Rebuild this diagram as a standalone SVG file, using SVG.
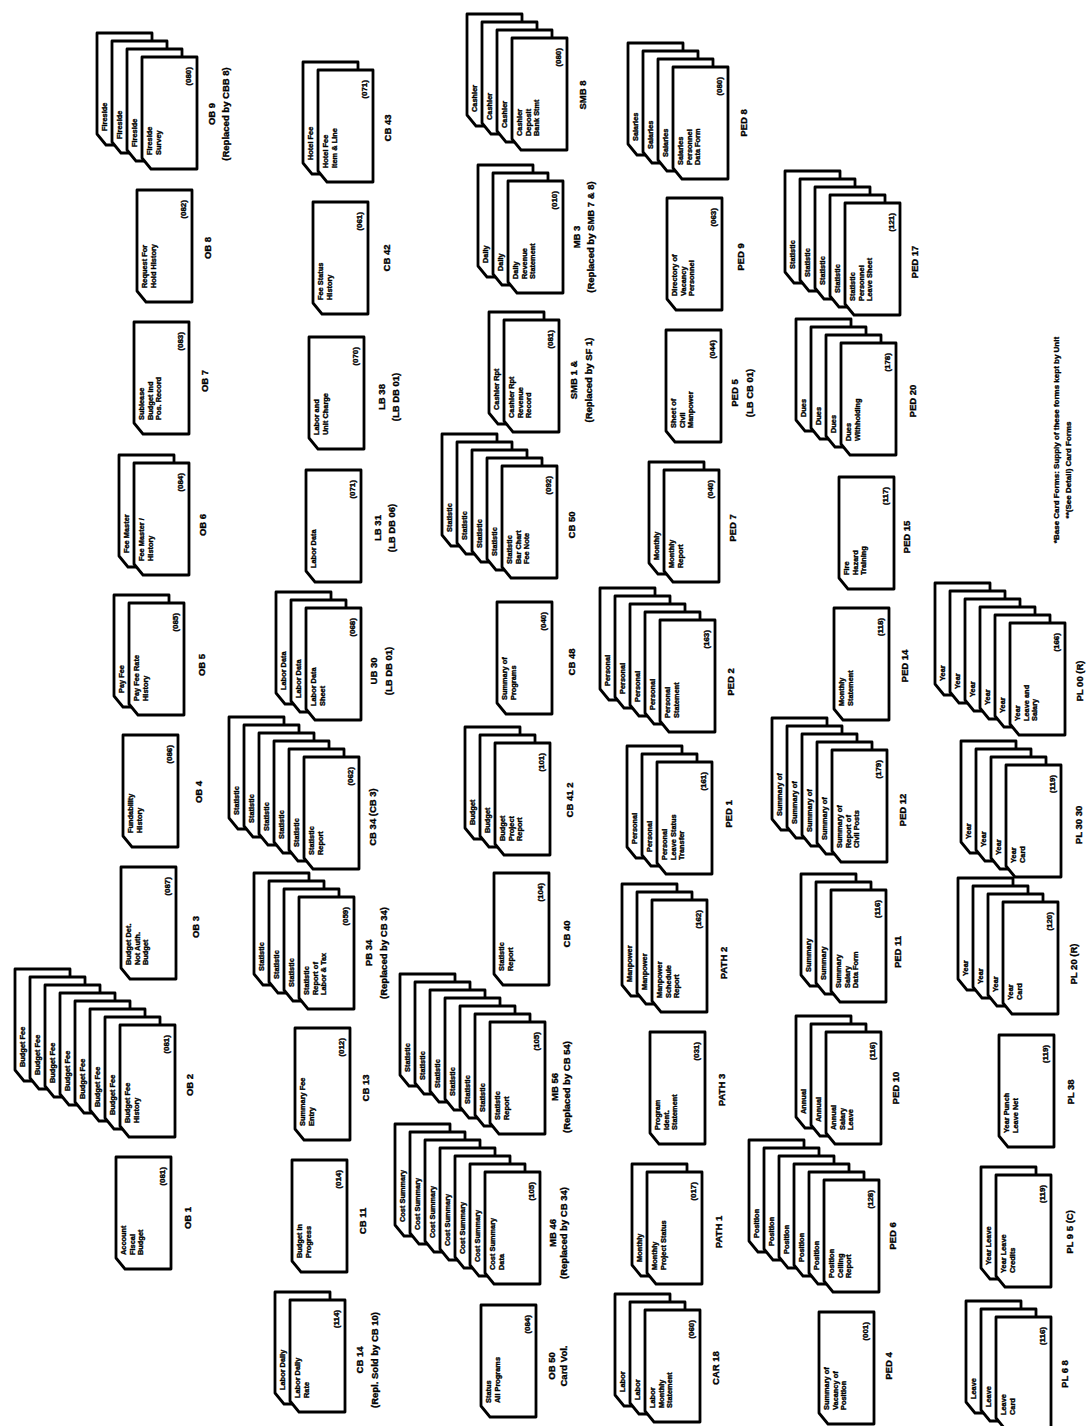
<svg xmlns="http://www.w3.org/2000/svg" xmlns:xlink="http://www.w3.org/1999/xlink" width="1089" height="1426" viewBox="0 0 1089 1426">
<style>
.c{fill:#fff;stroke:#000;stroke-width:2.8;stroke-linejoin:round}
.t{font-family:"Liberation Sans",Arial,sans-serif;font-weight:bold;fill:#000;stroke:#000;stroke-width:0.35}
.s{font-size:7.4px}
.n{font-size:8px;text-anchor:end}
.l{font-size:9.5px;text-anchor:middle}
.w{font-size:8px;text-anchor:middle}
</style>
<defs>
<path id="k" d="M0,0 H55 V112 H9 L0,101 Z"/>
</defs>
<rect width="1089" height="1426" fill="#fff"/>
<g id="connectors"/>

<!-- Column 1 -->
<g id="ob9" transform="translate(142,57)">
<g transform="translate(-45,-24)"><use href="#k" class="c"/><text class="t s" transform="translate(10,98) rotate(-90)">Fireside</text></g>
<g transform="translate(-30,-16)"><use href="#k" class="c"/><text class="t s" transform="translate(10,98) rotate(-90)">Fireside</text></g>
<g transform="translate(-15,-8)"><use href="#k" class="c"/><text class="t s" transform="translate(10,98) rotate(-90)">Fireside</text></g>
<use href="#k" class="c"/>
<text class="t s" transform="translate(10,98) rotate(-90)">Fireside</text>
<text class="t s" transform="translate(18.5,98) rotate(-90)">Survey</text>
<text class="t n" transform="translate(49,10) rotate(-90)">(080)</text>
<text class="t l" transform="translate(73,57) rotate(-90)">OB 9</text>
<text class="t l" transform="translate(87,57) rotate(-90)">(Replaced by CBB 8)</text>
</g>
<g id="ob8" transform="translate(137,190)">
<use href="#k" class="c"/>
<text class="t s" transform="translate(10,98) rotate(-90)">Request For</text>
<text class="t s" transform="translate(18.5,98) rotate(-90)">Hold History</text>
<text class="t n" transform="translate(49,10) rotate(-90)">(082)</text>
<text class="t l" transform="translate(74,58) rotate(-90)">OB 8</text>
</g>
<g id="ob7" transform="translate(134,322)">
<use href="#k" class="c"/>
<text class="t s" transform="translate(10,98) rotate(-90)">Sublease</text>
<text class="t s" transform="translate(18.5,98) rotate(-90)">Budget Ind</text>
<text class="t s" transform="translate(27,98) rotate(-90)">Pos. Record</text>
<text class="t n" transform="translate(49,10) rotate(-90)">(083)</text>
<text class="t l" transform="translate(74,59) rotate(-90)">OB 7</text>
</g>
<g id="ob6" transform="translate(134,463)">
<g transform="translate(-15,-8)"><use href="#k" class="c"/><text class="t s" transform="translate(10,98) rotate(-90)">Fee Master</text></g>
<use href="#k" class="c"/>
<text class="t s" transform="translate(10,98) rotate(-90)">Fee Master /</text>
<text class="t s" transform="translate(18.5,98) rotate(-90)">History</text>
<text class="t n" transform="translate(49,10) rotate(-90)">(084)</text>
<text class="t l" transform="translate(72,62) rotate(-90)">OB 6</text>
</g>
<g id="ob5" transform="translate(129,603)">
<g transform="translate(-15,-8)"><use href="#k" class="c"/><text class="t s" transform="translate(10,98) rotate(-90)">Pay Fee</text></g>
<use href="#k" class="c"/>
<text class="t s" transform="translate(10,98) rotate(-90)">Pay Fee Rate</text>
<text class="t s" transform="translate(18.5,98) rotate(-90)">History</text>
<text class="t n" transform="translate(49,10) rotate(-90)">(085)</text>
<text class="t l" transform="translate(76,62) rotate(-90)">OB 5</text>
</g>
<g id="ob4" transform="translate(123,735)">
<use href="#k" class="c"/>
<text class="t s" transform="translate(10,98) rotate(-90)">Fundability</text>
<text class="t s" transform="translate(18.5,98) rotate(-90)">History</text>
<text class="t n" transform="translate(49,10) rotate(-90)">(086)</text>
<text class="t l" transform="translate(79,57) rotate(-90)">OB 4</text>
</g>
<g id="ob3" transform="translate(121,867)">
<use href="#k" class="c"/>
<text class="t s" transform="translate(10,98) rotate(-90)">Budget Det.</text>
<text class="t s" transform="translate(18.5,98) rotate(-90)">Not Auth.</text>
<text class="t s" transform="translate(27,98) rotate(-90)">Budget</text>
<text class="t n" transform="translate(49,10) rotate(-90)">(087)</text>
<text class="t l" transform="translate(78,60) rotate(-90)">OB 3</text>
</g>
<g id="ob2" transform="translate(120,1025)">
<g transform="translate(-105,-56)"><use href="#k" class="c"/><text class="t s" transform="translate(10,98) rotate(-90)">Budget Fee</text></g>
<g transform="translate(-90,-48)"><use href="#k" class="c"/><text class="t s" transform="translate(10,98) rotate(-90)">Budget Fee</text></g>
<g transform="translate(-75,-40)"><use href="#k" class="c"/><text class="t s" transform="translate(10,98) rotate(-90)">Budget Fee</text></g>
<g transform="translate(-60,-32)"><use href="#k" class="c"/><text class="t s" transform="translate(10,98) rotate(-90)">Budget Fee</text></g>
<g transform="translate(-45,-24)"><use href="#k" class="c"/><text class="t s" transform="translate(10,98) rotate(-90)">Budget Fee</text></g>
<g transform="translate(-30,-16)"><use href="#k" class="c"/><text class="t s" transform="translate(10,98) rotate(-90)">Budget Fee</text></g>
<g transform="translate(-15,-8)"><use href="#k" class="c"/><text class="t s" transform="translate(10,98) rotate(-90)">Budget Fee</text></g>
<use href="#k" class="c"/>
<text class="t s" transform="translate(10,98) rotate(-90)">Budget Fee</text>
<text class="t s" transform="translate(18.5,98) rotate(-90)">History</text>
<text class="t n" transform="translate(49,10) rotate(-90)">(081)</text>
<text class="t l" transform="translate(73,60) rotate(-90)">OB 2</text>
</g>
<g id="ob1" transform="translate(116,1157)">
<use href="#k" class="c"/>
<text class="t s" transform="translate(10,98) rotate(-90)">Account</text>
<text class="t s" transform="translate(18.5,98) rotate(-90)">Fiscal</text>
<text class="t s" transform="translate(27,98) rotate(-90)">Budget</text>
<text class="t n" transform="translate(49,10) rotate(-90)">(081)</text>
<text class="t l" transform="translate(75,61) rotate(-90)">OB 1</text>
</g>

<!-- Column 2 -->
<g id="cb43" transform="translate(318,70)">
<g transform="translate(-15,-8)"><use href="#k" class="c"/><text class="t s" transform="translate(10,98) rotate(-90)">Hotel Fee</text></g>
<use href="#k" class="c"/>
<text class="t s" transform="translate(10,98) rotate(-90)">Hotel Fee</text>
<text class="t s" transform="translate(18.5,98) rotate(-90)">Item &amp; Line</text>
<text class="t n" transform="translate(49,10) rotate(-90)">(071)</text>
<text class="t l" transform="translate(73,58) rotate(-90)">CB 43</text>
</g>
<g id="cb42" transform="translate(313,202)">
<use href="#k" class="c"/>
<text class="t s" transform="translate(10,98) rotate(-90)">Fee Status</text>
<text class="t s" transform="translate(18.5,98) rotate(-90)">History</text>
<text class="t n" transform="translate(49,10) rotate(-90)">(061)</text>
<text class="t l" transform="translate(77,56) rotate(-90)">CB 42</text>
</g>
<g id="lb38" transform="translate(309,337)">
<use href="#k" class="c"/>
<text class="t s" transform="translate(10,98) rotate(-90)">Labor and</text>
<text class="t s" transform="translate(18.5,98) rotate(-90)">Unit Charge</text>
<text class="t n" transform="translate(49,10) rotate(-90)">(070)</text>
<text class="t l" transform="translate(76,60) rotate(-90)">LB 38</text>
<text class="t l" transform="translate(90,60) rotate(-90)">(LB DB 01)</text>
</g>
<g id="lb31" transform="translate(306,470)">
<use href="#k" class="c"/>
<text class="t s" transform="translate(10,98) rotate(-90)">Labor Data</text>
<text class="t n" transform="translate(49,10) rotate(-90)">(071)</text>
<text class="t l" transform="translate(75,58) rotate(-90)">LB 31</text>
<text class="t l" transform="translate(89,58) rotate(-90)">(LB DB 06)</text>
</g>
<g id="ub30" transform="translate(306,608)">
<g transform="translate(-30,-16)"><use href="#k" class="c"/><text class="t s" transform="translate(10,98) rotate(-90)">Labor Data</text></g>
<g transform="translate(-15,-8)"><use href="#k" class="c"/><text class="t s" transform="translate(10,98) rotate(-90)">Labor Data</text></g>
<use href="#k" class="c"/>
<text class="t s" transform="translate(10,98) rotate(-90)">Labor Data</text>
<text class="t s" transform="translate(18.5,98) rotate(-90)">Sheet</text>
<text class="t n" transform="translate(49,10) rotate(-90)">(068)</text>
<text class="t l" transform="translate(71,63) rotate(-90)">UB 30</text>
<text class="t l" transform="translate(86,63) rotate(-90)">(LB DB 01)</text>
</g>
<g id="cb34" transform="translate(304,757)">
<g transform="translate(-75,-40)"><use href="#k" class="c"/><text class="t s" transform="translate(10,98) rotate(-90)">Statistic</text></g>
<g transform="translate(-60,-32)"><use href="#k" class="c"/><text class="t s" transform="translate(10,98) rotate(-90)">Statistic</text></g>
<g transform="translate(-45,-24)"><use href="#k" class="c"/><text class="t s" transform="translate(10,98) rotate(-90)">Statistic</text></g>
<g transform="translate(-30,-16)"><use href="#k" class="c"/><text class="t s" transform="translate(10,98) rotate(-90)">Statistic</text></g>
<g transform="translate(-15,-8)"><use href="#k" class="c"/><text class="t s" transform="translate(10,98) rotate(-90)">Statistic</text></g>
<use href="#k" class="c"/>
<text class="t s" transform="translate(10,98) rotate(-90)">Statistic</text>
<text class="t s" transform="translate(18.5,98) rotate(-90)">Report</text>
<text class="t n" transform="translate(49,10) rotate(-90)">(062)</text>
<text class="t l" transform="translate(72,60) rotate(-90)">CB 34 (CB 3)</text>
</g>
<g id="pb34" transform="translate(299,897)">
<g transform="translate(-45,-24)"><use href="#k" class="c"/><text class="t s" transform="translate(10,98) rotate(-90)">Statistic</text></g>
<g transform="translate(-30,-16)"><use href="#k" class="c"/><text class="t s" transform="translate(10,98) rotate(-90)">Statistic</text></g>
<g transform="translate(-15,-8)"><use href="#k" class="c"/><text class="t s" transform="translate(10,98) rotate(-90)">Statistic</text></g>
<use href="#k" class="c"/>
<text class="t s" transform="translate(10,98) rotate(-90)">Statistic</text>
<text class="t s" transform="translate(18.5,98) rotate(-90)">Report of</text>
<text class="t s" transform="translate(27,98) rotate(-90)">Labor &amp; Tax</text>
<text class="t n" transform="translate(49,10) rotate(-90)">(059)</text>
<text class="t l" transform="translate(73,56) rotate(-90)">PB 34</text>
<text class="t l" transform="translate(88,56) rotate(-90)">(Replaced by CB 34)</text>
</g>
<g id="cb13" transform="translate(295,1028)">
<use href="#k" class="c"/>
<text class="t s" transform="translate(10,98) rotate(-90)">Summary Fee</text>
<text class="t s" transform="translate(18.5,98) rotate(-90)">Entry</text>
<text class="t n" transform="translate(49,10) rotate(-90)">(012)</text>
<text class="t l" transform="translate(74,60) rotate(-90)">CB 13</text>
</g>
<g id="cb11" transform="translate(292,1160)">
<use href="#k" class="c"/>
<text class="t s" transform="translate(10,98) rotate(-90)">Budget in</text>
<text class="t s" transform="translate(18.5,98) rotate(-90)">Progress</text>
<text class="t n" transform="translate(49,10) rotate(-90)">(014)</text>
<text class="t l" transform="translate(74,61) rotate(-90)">CB 11</text>
</g>
<g id="cb14" transform="translate(290,1300)">
<g transform="translate(-15,-8)"><use href="#k" class="c"/><text class="t s" transform="translate(10,98) rotate(-90)">Labor Daily</text></g>
<use href="#k" class="c"/>
<text class="t s" transform="translate(10,98) rotate(-90)">Labor Daily</text>
<text class="t s" transform="translate(18.5,98) rotate(-90)">Rate</text>
<text class="t n" transform="translate(49,10) rotate(-90)">(114)</text>
<text class="t l" transform="translate(73,60) rotate(-90)">CB 14</text>
<text class="t l" transform="translate(88,60) rotate(-90)">(Repl. Sold by CB 10)</text>
</g>

<!-- Column 3 -->
<g id="smb8" transform="translate(512,38)">
<g transform="translate(-45,-24)"><use href="#k" class="c"/><text class="t s" transform="translate(10,98) rotate(-90)">Cashier</text></g>
<g transform="translate(-30,-16)"><use href="#k" class="c"/><text class="t s" transform="translate(10,98) rotate(-90)">Cashier</text></g>
<g transform="translate(-15,-8)"><use href="#k" class="c"/><text class="t s" transform="translate(10,98) rotate(-90)">Cashier</text></g>
<use href="#k" class="c"/>
<text class="t s" transform="translate(10,98) rotate(-90)">Cashier</text>
<text class="t s" transform="translate(18.5,98) rotate(-90)">Deposit</text>
<text class="t s" transform="translate(27,98) rotate(-90)">Bank Stmt</text>
<text class="t n" transform="translate(49,10) rotate(-90)">(080)</text>
<text class="t l" transform="translate(74,57) rotate(-90)">SMB 8</text>
</g>
<g id="mb3" transform="translate(508,181)">
<g transform="translate(-30,-16)"><use href="#k" class="c"/><text class="t s" transform="translate(10,98) rotate(-90)">Daily</text></g>
<g transform="translate(-15,-8)"><use href="#k" class="c"/><text class="t s" transform="translate(10,98) rotate(-90)">Daily</text></g>
<use href="#k" class="c"/>
<text class="t s" transform="translate(10,98) rotate(-90)">Daily</text>
<text class="t s" transform="translate(18.5,98) rotate(-90)">Revenue</text>
<text class="t s" transform="translate(27,98) rotate(-90)">Statement</text>
<text class="t n" transform="translate(49,10) rotate(-90)">(010)</text>
<text class="t l" transform="translate(72,56) rotate(-90)">MB 3</text>
<text class="t l" transform="translate(86,56) rotate(-90)">(Replaced by SMB 7 &amp; 8)</text>
</g>
<g id="smb1" transform="translate(504,320)">
<g transform="translate(-15,-8)"><use href="#k" class="c"/><text class="t s" transform="translate(10,98) rotate(-90)">Cashier Rpt</text></g>
<use href="#k" class="c"/>
<text class="t s" transform="translate(10,98) rotate(-90)">Cashier Rpt</text>
<text class="t s" transform="translate(18.5,98) rotate(-90)">Revenue</text>
<text class="t s" transform="translate(27,98) rotate(-90)">Record</text>
<text class="t n" transform="translate(49,10) rotate(-90)">(081)</text>
<text class="t l" transform="translate(73,60) rotate(-90)">SMB 1 &amp;</text>
<text class="t l" transform="translate(88,60) rotate(-90)">(Replaced by SF 1)</text>
</g>
<g id="cb50" transform="translate(502,466)">
<g transform="translate(-60,-32)"><use href="#k" class="c"/><text class="t s" transform="translate(10,98) rotate(-90)">Statistic</text></g>
<g transform="translate(-45,-24)"><use href="#k" class="c"/><text class="t s" transform="translate(10,98) rotate(-90)">Statistic</text></g>
<g transform="translate(-30,-16)"><use href="#k" class="c"/><text class="t s" transform="translate(10,98) rotate(-90)">Statistic</text></g>
<g transform="translate(-15,-8)"><use href="#k" class="c"/><text class="t s" transform="translate(10,98) rotate(-90)">Statistic</text></g>
<use href="#k" class="c"/>
<text class="t s" transform="translate(10,98) rotate(-90)">Statistic</text>
<text class="t s" transform="translate(18.5,98) rotate(-90)">Bar Chart</text>
<text class="t s" transform="translate(27,98) rotate(-90)">Fee Note</text>
<text class="t n" transform="translate(49,10) rotate(-90)">(092)</text>
<text class="t l" transform="translate(73,59) rotate(-90)">CB 50</text>
</g>
<g id="cb48" transform="translate(497,602)">
<use href="#k" class="c"/>
<text class="t s" transform="translate(10,98) rotate(-90)">Summary of</text>
<text class="t s" transform="translate(18.5,98) rotate(-90)">Programs</text>
<text class="t n" transform="translate(49,10) rotate(-90)">(040)</text>
<text class="t l" transform="translate(78,60) rotate(-90)">CB 48</text>
</g>
<g id="cb412" transform="translate(495,743)">
<g transform="translate(-30,-16)"><use href="#k" class="c"/><text class="t s" transform="translate(10,98) rotate(-90)">Budget</text></g>
<g transform="translate(-15,-8)"><use href="#k" class="c"/><text class="t s" transform="translate(10,98) rotate(-90)">Budget</text></g>
<use href="#k" class="c"/>
<text class="t s" transform="translate(10,98) rotate(-90)">Budget</text>
<text class="t s" transform="translate(18.5,98) rotate(-90)">Project</text>
<text class="t s" transform="translate(27,98) rotate(-90)">Report</text>
<text class="t n" transform="translate(49,10) rotate(-90)">(101)</text>
<text class="t l" transform="translate(78,57) rotate(-90)">CB 41 2</text>
</g>
<g id="cb40" transform="translate(494,873)">
<use href="#k" class="c"/>
<text class="t s" transform="translate(10,98) rotate(-90)">Statistic</text>
<text class="t s" transform="translate(18.5,98) rotate(-90)">Report</text>
<text class="t n" transform="translate(49,10) rotate(-90)">(104)</text>
<text class="t l" transform="translate(76,61) rotate(-90)">CB 40</text>
</g>
<g id="mb56" transform="translate(490,1022)">
<g transform="translate(-90,-48)"><use href="#k" class="c"/><text class="t s" transform="translate(10,98) rotate(-90)">Statistic</text></g>
<g transform="translate(-75,-40)"><use href="#k" class="c"/><text class="t s" transform="translate(10,98) rotate(-90)">Statistic</text></g>
<g transform="translate(-60,-32)"><use href="#k" class="c"/><text class="t s" transform="translate(10,98) rotate(-90)">Statistic</text></g>
<g transform="translate(-45,-24)"><use href="#k" class="c"/><text class="t s" transform="translate(10,98) rotate(-90)">Statistic</text></g>
<g transform="translate(-30,-16)"><use href="#k" class="c"/><text class="t s" transform="translate(10,98) rotate(-90)">Statistic</text></g>
<g transform="translate(-15,-8)"><use href="#k" class="c"/><text class="t s" transform="translate(10,98) rotate(-90)">Statistic</text></g>
<use href="#k" class="c"/>
<text class="t s" transform="translate(10,98) rotate(-90)">Statistic</text>
<text class="t s" transform="translate(18.5,98) rotate(-90)">Report</text>
<text class="t n" transform="translate(49,10) rotate(-90)">(105)</text>
<text class="t l" transform="translate(68,65) rotate(-90)">MB 56</text>
<text class="t l" transform="translate(80,65) rotate(-90)">(Replaced by CB 54)</text>
</g>
<g id="mb46" transform="translate(485,1172)">
<g transform="translate(-90,-48)"><use href="#k" class="c"/><text class="t s" transform="translate(10,98) rotate(-90)">Cost Summary</text></g>
<g transform="translate(-75,-40)"><use href="#k" class="c"/><text class="t s" transform="translate(10,98) rotate(-90)">Cost Summary</text></g>
<g transform="translate(-60,-32)"><use href="#k" class="c"/><text class="t s" transform="translate(10,98) rotate(-90)">Cost Summary</text></g>
<g transform="translate(-45,-24)"><use href="#k" class="c"/><text class="t s" transform="translate(10,98) rotate(-90)">Cost Summary</text></g>
<g transform="translate(-30,-16)"><use href="#k" class="c"/><text class="t s" transform="translate(10,98) rotate(-90)">Cost Summary</text></g>
<g transform="translate(-15,-8)"><use href="#k" class="c"/><text class="t s" transform="translate(10,98) rotate(-90)">Cost Summary</text></g>
<use href="#k" class="c"/>
<text class="t s" transform="translate(10,98) rotate(-90)">Cost Summary</text>
<text class="t s" transform="translate(18.5,98) rotate(-90)">Data</text>
<text class="t n" transform="translate(49,10) rotate(-90)">(105)</text>
<text class="t l" transform="translate(71,61) rotate(-90)">MB 46</text>
<text class="t l" transform="translate(82,61) rotate(-90)">(Replaced by CB 34)</text>
</g>
<g id="ob50" transform="translate(481,1305)">
<use href="#k" class="c"/>
<text class="t s" transform="translate(10,98) rotate(-90)">Status</text>
<text class="t s" transform="translate(18.5,98) rotate(-90)">All Programs</text>
<text class="t n" transform="translate(49,10) rotate(-90)">(084)</text>
<text class="t l" transform="translate(74,61) rotate(-90)">OB 50</text>
<text class="t l" transform="translate(86,61) rotate(-90)">Card Vol.</text>
</g>

<!-- Column 4 -->
<g id="ped8" transform="translate(673,67)">
<g transform="translate(-45,-24)"><use href="#k" class="c"/><text class="t s" transform="translate(10,98) rotate(-90)">Salaries</text></g>
<g transform="translate(-30,-16)"><use href="#k" class="c"/><text class="t s" transform="translate(10,98) rotate(-90)">Salaries</text></g>
<g transform="translate(-15,-8)"><use href="#k" class="c"/><text class="t s" transform="translate(10,98) rotate(-90)">Salaries</text></g>
<use href="#k" class="c"/>
<text class="t s" transform="translate(10,98) rotate(-90)">Salaries</text>
<text class="t s" transform="translate(18.5,98) rotate(-90)">Personnel</text>
<text class="t s" transform="translate(27,98) rotate(-90)">Data Form</text>
<text class="t n" transform="translate(49,10) rotate(-90)">(080)</text>
<text class="t l" transform="translate(74,56) rotate(-90)">PED 8</text>
</g>
<g id="ped9" transform="translate(667,198)">
<use href="#k" class="c"/>
<text class="t s" transform="translate(10,98) rotate(-90)">Directory of</text>
<text class="t s" transform="translate(18.5,98) rotate(-90)">Vacancy</text>
<text class="t s" transform="translate(27,98) rotate(-90)">Personnel</text>
<text class="t n" transform="translate(49,10) rotate(-90)">(063)</text>
<text class="t l" transform="translate(77,59) rotate(-90)">PED 9</text>
</g>
<g id="ped5" transform="translate(666,330)">
<use href="#k" class="c"/>
<text class="t s" transform="translate(10,98) rotate(-90)">Sheet of</text>
<text class="t s" transform="translate(18.5,98) rotate(-90)">Civil</text>
<text class="t s" transform="translate(27,98) rotate(-90)">Manpower</text>
<text class="t n" transform="translate(49,10) rotate(-90)">(044)</text>
<text class="t l" transform="translate(72,63) rotate(-90)">PED 5</text>
<text class="t l" transform="translate(87,63) rotate(-90)">(LB CB 01)</text>
</g>
<g id="ped7" transform="translate(664,470)">
<g transform="translate(-15,-8)"><use href="#k" class="c"/><text class="t s" transform="translate(10,98) rotate(-90)">Monthly</text></g>
<use href="#k" class="c"/>
<text class="t s" transform="translate(10,98) rotate(-90)">Monthly</text>
<text class="t s" transform="translate(18.5,98) rotate(-90)">Report</text>
<text class="t n" transform="translate(49,10) rotate(-90)">(040)</text>
<text class="t l" transform="translate(72,58) rotate(-90)">PED 7</text>
</g>
<g id="ped2" transform="translate(660,620)">
<g transform="translate(-60,-32)"><use href="#k" class="c"/><text class="t s" transform="translate(10,98) rotate(-90)">Personal</text></g>
<g transform="translate(-45,-24)"><use href="#k" class="c"/><text class="t s" transform="translate(10,98) rotate(-90)">Personal</text></g>
<g transform="translate(-30,-16)"><use href="#k" class="c"/><text class="t s" transform="translate(10,98) rotate(-90)">Personal</text></g>
<g transform="translate(-15,-8)"><use href="#k" class="c"/><text class="t s" transform="translate(10,98) rotate(-90)">Personal</text></g>
<use href="#k" class="c"/>
<text class="t s" transform="translate(10,98) rotate(-90)">Personal</text>
<text class="t s" transform="translate(18.5,98) rotate(-90)">Statement</text>
<text class="t n" transform="translate(49,10) rotate(-90)">(163)</text>
<text class="t l" transform="translate(74,62) rotate(-90)">PED 2</text>
</g>
<g id="ped1" transform="translate(657,762)">
<g transform="translate(-30,-16)"><use href="#k" class="c"/><text class="t s" transform="translate(10,98) rotate(-90)">Personal</text></g>
<g transform="translate(-15,-8)"><use href="#k" class="c"/><text class="t s" transform="translate(10,98) rotate(-90)">Personal</text></g>
<use href="#k" class="c"/>
<text class="t s" transform="translate(10,98) rotate(-90)">Personal</text>
<text class="t s" transform="translate(18.5,98) rotate(-90)">Leave Status</text>
<text class="t s" transform="translate(27,98) rotate(-90)">Transfer</text>
<text class="t n" transform="translate(49,10) rotate(-90)">(161)</text>
<text class="t l" transform="translate(75,52) rotate(-90)">PED 1</text>
</g>
<g id="path2" transform="translate(652,900)">
<g transform="translate(-30,-16)"><use href="#k" class="c"/><text class="t s" transform="translate(10,98) rotate(-90)">Manpower</text></g>
<g transform="translate(-15,-8)"><use href="#k" class="c"/><text class="t s" transform="translate(10,98) rotate(-90)">Manpower</text></g>
<use href="#k" class="c"/>
<text class="t s" transform="translate(10,98) rotate(-90)">Manpower</text>
<text class="t s" transform="translate(18.5,98) rotate(-90)">Schedule</text>
<text class="t s" transform="translate(27,98) rotate(-90)">Report</text>
<text class="t n" transform="translate(49,10) rotate(-90)">(162)</text>
<text class="t l" transform="translate(75,63) rotate(-90)">PATH 2</text>
</g>
<g id="path3" transform="translate(650,1032)">
<use href="#k" class="c"/>
<text class="t s" transform="translate(10,98) rotate(-90)">Program</text>
<text class="t s" transform="translate(18.5,98) rotate(-90)">Ident.</text>
<text class="t s" transform="translate(27,98) rotate(-90)">Statement</text>
<text class="t n" transform="translate(49,10) rotate(-90)">(031)</text>
<text class="t l" transform="translate(75,58) rotate(-90)">PATH 3</text>
</g>
<g id="path1" transform="translate(647,1172)">
<g transform="translate(-15,-8)"><use href="#k" class="c"/><text class="t s" transform="translate(10,98) rotate(-90)">Monthly</text></g>
<use href="#k" class="c"/>
<text class="t s" transform="translate(10,98) rotate(-90)">Monthly</text>
<text class="t s" transform="translate(18.5,98) rotate(-90)">Project Status</text>
<text class="t n" transform="translate(49,10) rotate(-90)">(017)</text>
<text class="t l" transform="translate(75,60) rotate(-90)">PATH 1</text>
</g>
<g id="car18" transform="translate(645,1310)">
<g transform="translate(-30,-16)"><use href="#k" class="c"/><text class="t s" transform="translate(10,98) rotate(-90)">Labor</text></g>
<g transform="translate(-15,-8)"><use href="#k" class="c"/><text class="t s" transform="translate(10,98) rotate(-90)">Labor</text></g>
<use href="#k" class="c"/>
<text class="t s" transform="translate(10,98) rotate(-90)">Labor</text>
<text class="t s" transform="translate(18.5,98) rotate(-90)">Monthly</text>
<text class="t s" transform="translate(27,98) rotate(-90)">Statement</text>
<text class="t n" transform="translate(49,10) rotate(-90)">(060)</text>
<text class="t l" transform="translate(74,58) rotate(-90)">CAR 18</text>
</g>

<!-- Column 5 -->
<g id="ped17" transform="translate(845,203)">
<g transform="translate(-60,-32)"><use href="#k" class="c"/><text class="t s" transform="translate(10,98) rotate(-90)">Statistic</text></g>
<g transform="translate(-45,-24)"><use href="#k" class="c"/><text class="t s" transform="translate(10,98) rotate(-90)">Statistic</text></g>
<g transform="translate(-30,-16)"><use href="#k" class="c"/><text class="t s" transform="translate(10,98) rotate(-90)">Statistic</text></g>
<g transform="translate(-15,-8)"><use href="#k" class="c"/><text class="t s" transform="translate(10,98) rotate(-90)">Statistic</text></g>
<use href="#k" class="c"/>
<text class="t s" transform="translate(10,98) rotate(-90)">Statistic</text>
<text class="t s" transform="translate(18.5,98) rotate(-90)">Personnel</text>
<text class="t s" transform="translate(27,98) rotate(-90)">Leave Sheet</text>
<text class="t n" transform="translate(49,10) rotate(-90)">(121)</text>
<text class="t l" transform="translate(73,59) rotate(-90)">PED 17</text>
</g>
<g id="ped20" transform="translate(841,343)">
<g transform="translate(-45,-24)"><use href="#k" class="c"/><text class="t s" transform="translate(10,98) rotate(-90)">Dues</text></g>
<g transform="translate(-30,-16)"><use href="#k" class="c"/><text class="t s" transform="translate(10,98) rotate(-90)">Dues</text></g>
<g transform="translate(-15,-8)"><use href="#k" class="c"/><text class="t s" transform="translate(10,98) rotate(-90)">Dues</text></g>
<use href="#k" class="c"/>
<text class="t s" transform="translate(10,98) rotate(-90)">Dues</text>
<text class="t s" transform="translate(18.5,98) rotate(-90)">Withholding</text>
<text class="t n" transform="translate(49,10) rotate(-90)">(178)</text>
<text class="t l" transform="translate(75,58) rotate(-90)">PED 20</text>
</g>
<g id="ped15" transform="translate(839,477)">
<use href="#k" class="c"/>
<text class="t s" transform="translate(10,98) rotate(-90)">Fire</text>
<text class="t s" transform="translate(18.5,98) rotate(-90)">Hazard</text>
<text class="t s" transform="translate(27,98) rotate(-90)">Training</text>
<text class="t n" transform="translate(49,10) rotate(-90)">(117)</text>
<text class="t l" transform="translate(71,60) rotate(-90)">PED 15</text>
</g>
<g id="ped14" transform="translate(834,608)">
<use href="#k" class="c"/>
<text class="t s" transform="translate(10,98) rotate(-90)">Monthly</text>
<text class="t s" transform="translate(18.5,98) rotate(-90)">Statement</text>
<text class="t n" transform="translate(49,10) rotate(-90)">(118)</text>
<text class="t l" transform="translate(74,58) rotate(-90)">PED 14</text>
</g>
<g id="ped12" transform="translate(832,750)">
<g transform="translate(-60,-32)"><use href="#k" class="c"/><text class="t s" transform="translate(10,98) rotate(-90)">Summary of</text></g>
<g transform="translate(-45,-24)"><use href="#k" class="c"/><text class="t s" transform="translate(10,98) rotate(-90)">Summary of</text></g>
<g transform="translate(-30,-16)"><use href="#k" class="c"/><text class="t s" transform="translate(10,98) rotate(-90)">Summary of</text></g>
<g transform="translate(-15,-8)"><use href="#k" class="c"/><text class="t s" transform="translate(10,98) rotate(-90)">Summary of</text></g>
<use href="#k" class="c"/>
<text class="t s" transform="translate(10,98) rotate(-90)">Summary of</text>
<text class="t s" transform="translate(18.5,98) rotate(-90)">Report of</text>
<text class="t s" transform="translate(27,98) rotate(-90)">Civil Posts</text>
<text class="t n" transform="translate(49,10) rotate(-90)">(179)</text>
<text class="t l" transform="translate(74,60) rotate(-90)">PED 12</text>
</g>
<g id="ped11" transform="translate(831,890)">
<g transform="translate(-30,-16)"><use href="#k" class="c"/><text class="t s" transform="translate(10,98) rotate(-90)">Summary</text></g>
<g transform="translate(-15,-8)"><use href="#k" class="c"/><text class="t s" transform="translate(10,98) rotate(-90)">Summary</text></g>
<use href="#k" class="c"/>
<text class="t s" transform="translate(10,98) rotate(-90)">Summary</text>
<text class="t s" transform="translate(18.5,98) rotate(-90)">Salary</text>
<text class="t s" transform="translate(27,98) rotate(-90)">Data Form</text>
<text class="t n" transform="translate(49,10) rotate(-90)">(116)</text>
<text class="t l" transform="translate(70,62) rotate(-90)">PED 11</text>
</g>
<g id="ped10" transform="translate(826,1032)">
<g transform="translate(-30,-16)"><use href="#k" class="c"/><text class="t s" transform="translate(10,98) rotate(-90)">Annual</text></g>
<g transform="translate(-15,-8)"><use href="#k" class="c"/><text class="t s" transform="translate(10,98) rotate(-90)">Annual</text></g>
<use href="#k" class="c"/>
<text class="t s" transform="translate(10,98) rotate(-90)">Annual</text>
<text class="t s" transform="translate(18.5,98) rotate(-90)">Salary</text>
<text class="t s" transform="translate(27,98) rotate(-90)">Leave</text>
<text class="t n" transform="translate(49,10) rotate(-90)">(116)</text>
<text class="t l" transform="translate(73,56) rotate(-90)">PED 10</text>
</g>
<g id="ped6" transform="translate(824,1180)">
<g transform="translate(-75,-40)"><use href="#k" class="c"/><text class="t s" transform="translate(10,98) rotate(-90)">Position</text></g>
<g transform="translate(-60,-32)"><use href="#k" class="c"/><text class="t s" transform="translate(10,98) rotate(-90)">Position</text></g>
<g transform="translate(-45,-24)"><use href="#k" class="c"/><text class="t s" transform="translate(10,98) rotate(-90)">Position</text></g>
<g transform="translate(-30,-16)"><use href="#k" class="c"/><text class="t s" transform="translate(10,98) rotate(-90)">Position</text></g>
<g transform="translate(-15,-8)"><use href="#k" class="c"/><text class="t s" transform="translate(10,98) rotate(-90)">Position</text></g>
<use href="#k" class="c"/>
<text class="t s" transform="translate(10,98) rotate(-90)">Position</text>
<text class="t s" transform="translate(18.5,98) rotate(-90)">Ceiling</text>
<text class="t s" transform="translate(27,98) rotate(-90)">Report</text>
<text class="t n" transform="translate(49,10) rotate(-90)">(128)</text>
<text class="t l" transform="translate(72,56) rotate(-90)">PED 6</text>
</g>
<g id="ped4" transform="translate(819,1312)">
<use href="#k" class="c"/>
<text class="t s" transform="translate(10,98) rotate(-90)">Summary of</text>
<text class="t s" transform="translate(18.5,98) rotate(-90)">Vacancy of</text>
<text class="t s" transform="translate(27,98) rotate(-90)">Position</text>
<text class="t n" transform="translate(49,10) rotate(-90)">(001)</text>
<text class="t l" transform="translate(73,54) rotate(-90)">PED 4</text>
</g>

<!-- Column 6 -->
<g id="note">
<text class="t w" transform="translate(1059,440) rotate(-90)">*Base Card Forms: Supply of these forms kept by Unit</text>
<text class="t w" transform="translate(1071,470) rotate(-90)">**(See Detail) Card Forms</text>
</g>
<g id="pl00" transform="translate(1010,623)">
<g transform="translate(-75,-40)"><use href="#k" class="c"/><text class="t s" transform="translate(10,98) rotate(-90)">Year</text></g>
<g transform="translate(-60,-32)"><use href="#k" class="c"/><text class="t s" transform="translate(10,98) rotate(-90)">Year</text></g>
<g transform="translate(-45,-24)"><use href="#k" class="c"/><text class="t s" transform="translate(10,98) rotate(-90)">Year</text></g>
<g transform="translate(-30,-16)"><use href="#k" class="c"/><text class="t s" transform="translate(10,98) rotate(-90)">Year</text></g>
<g transform="translate(-15,-8)"><use href="#k" class="c"/><text class="t s" transform="translate(10,98) rotate(-90)">Year</text></g>
<use href="#k" class="c"/>
<text class="t s" transform="translate(10,98) rotate(-90)">Year</text>
<text class="t s" transform="translate(18.5,98) rotate(-90)">Leave and</text>
<text class="t s" transform="translate(27,98) rotate(-90)">Salary</text>
<text class="t n" transform="translate(49,10) rotate(-90)">(166)</text>
<text class="t l" transform="translate(73,58) rotate(-90)">PL 00 (R)</text>
</g>
<g id="pl3030" transform="translate(1006,765)">
<g transform="translate(-45,-24)"><use href="#k" class="c"/><text class="t s" transform="translate(10,98) rotate(-90)">Year</text></g>
<g transform="translate(-30,-16)"><use href="#k" class="c"/><text class="t s" transform="translate(10,98) rotate(-90)">Year</text></g>
<g transform="translate(-15,-8)"><use href="#k" class="c"/><text class="t s" transform="translate(10,98) rotate(-90)">Year</text></g>
<use href="#k" class="c"/>
<text class="t s" transform="translate(10,98) rotate(-90)">Year</text>
<text class="t s" transform="translate(18.5,98) rotate(-90)">Card</text>
<text class="t n" transform="translate(49,10) rotate(-90)">(119)</text>
<text class="t l" transform="translate(76,60) rotate(-90)">PL 30 30</text>
</g>
<g id="pl20" transform="translate(1003,902)">
<g transform="translate(-45,-24)"><use href="#k" class="c"/><text class="t s" transform="translate(10,98) rotate(-90)">Year</text></g>
<g transform="translate(-30,-16)"><use href="#k" class="c"/><text class="t s" transform="translate(10,98) rotate(-90)">Year</text></g>
<g transform="translate(-15,-8)"><use href="#k" class="c"/><text class="t s" transform="translate(10,98) rotate(-90)">Year</text></g>
<use href="#k" class="c"/>
<text class="t s" transform="translate(10,98) rotate(-90)">Year</text>
<text class="t s" transform="translate(18.5,98) rotate(-90)">Card</text>
<text class="t n" transform="translate(49,10) rotate(-90)">(120)</text>
<text class="t l" transform="translate(74,62) rotate(-90)">PL 20 (R)</text>
</g>
<g id="pl38" transform="translate(999,1035)">
<use href="#k" class="c"/>
<text class="t s" transform="translate(10,98) rotate(-90)">Year Punch</text>
<text class="t s" transform="translate(18.5,98) rotate(-90)">Leave Net</text>
<text class="t n" transform="translate(49,10) rotate(-90)">(119)</text>
<text class="t l" transform="translate(75,57) rotate(-90)">PL 38</text>
</g>
<g id="pl95" transform="translate(996,1175)">
<g transform="translate(-15,-8)"><use href="#k" class="c"/><text class="t s" transform="translate(10,98) rotate(-90)">Year Leave</text></g>
<use href="#k" class="c"/>
<text class="t s" transform="translate(10,98) rotate(-90)">Year Leave</text>
<text class="t s" transform="translate(18.5,98) rotate(-90)">Credits</text>
<text class="t n" transform="translate(49,10) rotate(-90)">(119)</text>
<text class="t l" transform="translate(77,57) rotate(-90)">PL 9 5 (C)</text>
</g>
<g id="pl68" transform="translate(996,1317)">
<g transform="translate(-30,-16)"><use href="#k" class="c"/><text class="t s" transform="translate(10,98) rotate(-90)">Leave</text></g>
<g transform="translate(-15,-8)"><use href="#k" class="c"/><text class="t s" transform="translate(10,98) rotate(-90)">Leave</text></g>
<use href="#k" class="c"/>
<text class="t s" transform="translate(10,98) rotate(-90)">Leave</text>
<text class="t s" transform="translate(18.5,98) rotate(-90)">Card</text>
<text class="t n" transform="translate(49,10) rotate(-90)">(116)</text>
<text class="t l" transform="translate(72,57) rotate(-90)">PL 6 8</text>
</g>
</svg>
